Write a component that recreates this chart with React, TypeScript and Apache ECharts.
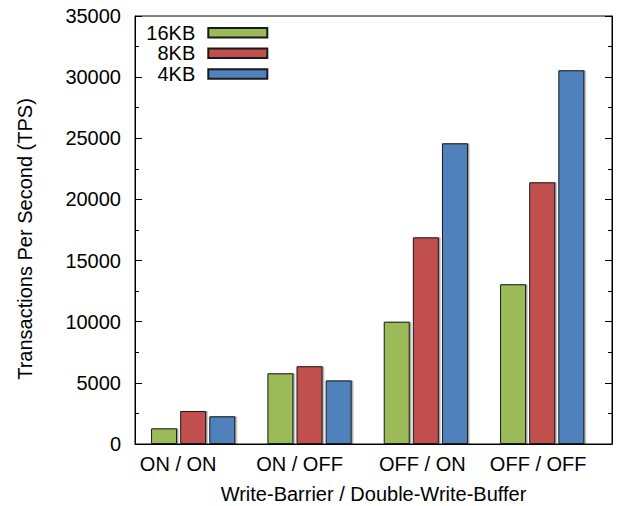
import React, { useEffect, useRef } from "react";
import * as echarts from "echarts";

const categories = ["ON / ON", "ON / OFF", "OFF / ON", "OFF / OFF"];
const seriesNames = ["16KB", "8KB", "4KB"];
const values16KB = [1280, 5780, 10000, 13060];
const values8KB = [2700, 6360, 16900, 21400];
const values4KB = [2265, 5200, 24590, 30560];
const colors = ["#9BBB59", "#C0504D", "#4F81BD"];
// horizontal nudge (px, negative = left) of each category label, as in the reference
const labelShifts = [-15, -10, -3.5, -4];

const FONT = "Liberation Sans, Arial, Helvetica, sans-serif";

export default function App() {
  const ref = useRef<HTMLDivElement>(null);
  useEffect(() => {
    if (!ref.current) return;
    const chart = echarts.init(ref.current, undefined, { renderer: "svg" });
    const allValues = [values16KB, values8KB, values4KB];
    const series = seriesNames.map((name, si) => ({
      name,
      type: "bar",
      data: categories.map((_, i) => [i, allValues[si][i]]),
      barWidth: 26,
      barGap: "12%",
      itemStyle: {
        color: colors[si],
        borderColor: "#1a1a1a",
        borderWidth: 1,
        shadowColor: "rgba(0,0,0,0.35)",
        shadowOffsetX: 1.5,
        shadowOffsetY: 0,
        shadowBlur: 1,
      },
    }));
    const legends = seriesNames.map((name, i) => ({
      data: [name],
      orient: "vertical",
      align: "right",
      right: 349.7,
      top: 22.7 + i * 20.6,
      padding: 0,
      itemWidth: 59,
      itemHeight: 9.5,
      icon: "rect",
      textStyle: {
        fontFamily: FONT,
        fontSize: 20,
        color: "#000",
        lineHeight: 20,
        padding: [0, 8, 0, 0],
      },
    }));
    const rich: Record<string, any> = {};
    labelShifts.forEach((s, i) => {
      rich["l" + i] = {
        fontFamily: FONT,
        fontSize: 20,
        color: "#000",
        padding: s < 0 ? [0, -2 * s, 0, 0] : [0, 0, 0, 2 * s],
      };
    });
    const yAxisCommon = {
      type: "value",
      min: 0,
      max: 35000,
      interval: 5000,
      axisLine: { show: true, onZero: false, lineStyle: { color: "#000", width: 1 } },
      axisTick: { show: true, inside: true, length: 7, lineStyle: { color: "#000" } },
      minorTick: { show: true, splitNumber: 2, length: 4, lineStyle: { color: "#000" } },
      splitLine: { show: false },
    };
    chart.setOption({
      animation: false,
      textStyle: { fontFamily: FONT },
      grid: {
        left: 135,
        right: 6,
        top: 16,
        bottom: 62,
        outerBoundsMode: "none",
        containLabel: false,
        show: true,
        borderColor: "#000",
        borderWidth: 1,
        backgroundColor: "transparent",
      },
      legend: legends,
      xAxis: {
        type: "value",
        min: -0.5,
        max: 3.6,
        name: "Write-Barrier / Double-Write-Buffer",
        nameLocation: "middle",
        nameGap: 40,
        nameTextStyle: { fontFamily: FONT, fontSize: 20, color: "#000" },
        axisLine: { show: true, onZero: false, lineStyle: { color: "#000", width: 1 } },
        axisTick: { show: false },
        splitLine: { show: false },
        axisLabel: {
          customValues: [0, 1, 2, 3],
          formatter: (v: number) => {
            const i = Math.round(v);
            return categories[i] !== undefined ? `{l${i}|${categories[i]}}` : "";
          },
          rich,
          fontFamily: FONT,
          fontSize: 20,
          color: "#000",
          margin: 10,
        },
      },
      yAxis: [
        {
          ...yAxisCommon,
          name: "Transactions Per Second (TPS)",
          nameLocation: "middle",
          nameGap: 100,
          nameTextStyle: {
            fontFamily: FONT,
            fontSize: 20,
            color: "#000",
            padding: [0, 18, 0, 0],
          },
          axisLabel: {
            fontFamily: FONT,
            fontSize: 20,
            color: "#000",
            margin: 14,
            formatter: (v: number) => String(v),
          },
        },
        {
          ...yAxisCommon,
          position: "right",
          axisLabel: { show: false },
        },
      ],
      series,
    });
    return () => chart.dispose();
  }, []);
  return <div ref={ref} style={{ width: 618, height: 506, position: "absolute", left: 0, top: 0 }} />;
}
